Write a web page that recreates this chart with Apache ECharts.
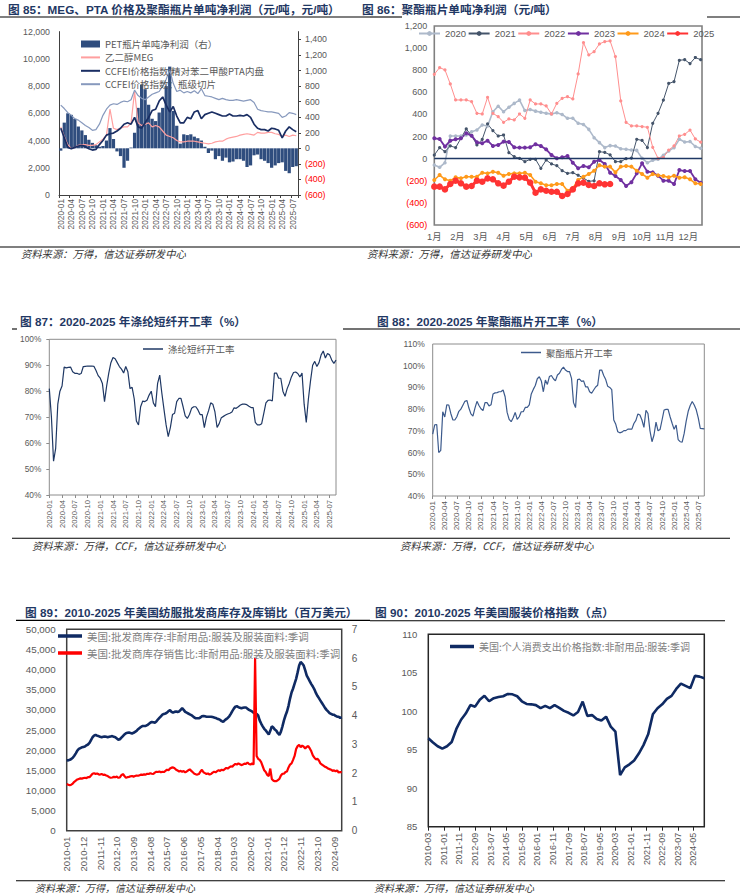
<!DOCTYPE html>
<html><head><meta charset="utf-8">
<script src="https://cdn.jsdelivr.net/npm/echarts@6.0.0/dist/echarts.min.js"></script>
<style>html,body{margin:0;padding:0;background:#fff}#c{width:740px;height:895px}</style>
</head><body><div id="c"></div>
<script>
// ---------- helpers for category labels ----------
function monthRange(y0, m0, n, step) {
  var out = [];
  for (var i = 0; i < n; i++) {
    var t = (m0 - 1) + i * (step || 1);
    var y = y0 + Math.floor(t / 12), m = t % 12 + 1;
    out.push(y + '-' + (m < 10 ? '0' : '') + m);
  }
  return out;
}
function halfMonths(y0, m0, nMonths) {
  var ms = monthRange(y0, m0, nMonths), out = [];
  ms.forEach(function (m) { out.push(m + '-01'); out.push(m + '-16'); });
  return out;
}

// ---------- Fig 85 : monthly 2020-01 .. 2025-08 ----------
var cat85 = monthRange(2020, 1, 68);
var pet85 = [-30,330,450,430,380,280,230,170,110,70,40,20, 30,100,260,120,-40,-100,-250,-160,10,200,520,820, 760,560,380,350,460,520,800,1050,480,290,60,180, 170,180,150,130,100,20,-60,-30,-140,-100,-160,-120, -180,-170,-140,-140,-160,-240,-220,-90,-80,-140,-160,-190, -250,-220,-190,-180,-290,-320,-240,-230];
var meg85 = [5000,4300,3700,3400,3500,3650,3700,3700,3650,3650,3700,3900, 4100,4400,6300,4900,4800,4900,5000,5000,5300,7600,5300,5100, 5200,5300,5000,5100,5000,4700,4400,4300,4200,4000,3900,3900, 3950,3950,3950,3900,3850,3800,3750,3800,3900,3950,3950,4100, 4200,4250,4300,4400,4450,4500,4450,4400,4600,4550,4550,4600, 4600,4500,4450,4300,4400,4300,4400,4350];
var pta85 = [4900,4200,3500,3400,3500,3600,3650,3550,3400,3300,3350,3700, 4000,4400,4500,4550,4700,4900,5200,5300,5200,5700,5000,4900, 5300,5700,6200,6300,6900,7200,6600,6100,6500,5800,5300,5300, 5700,5600,6100,6200,5600,5900,6000,6100,6000,5900,5800,5800, 5950,5800,5800,5850,5800,5900,5700,5200,4900,4800,4800,4700, 4900,4850,4750,4200,4700,5000,4800,4650];
var bottle85 = [6600,6350,6050,5850,5600,5500,5300,5100,4950,4750,4800,5200, 5850,6300,6600,6700,6650,6800,6900,6850,7000,7700,7300,7100, 7000,7200,7400,7500,7600,8000,8500,9200,8200,7600,7700,7500, 7600,7500,7650,7450,7800,7300,7250,7200,7100,7000,7100,7000, 6950,6950,7000,6950,6900,6950,7000,6800,6300,6200,6150,6100, 6100,6050,6000,5700,5800,6050,6000,5900];

// ---------- Fig 86 : weekly profit by year ----------
var monthNames86 = ['1月','2月','3月','4月','5月','6月','7月','8月','9月','10月','11月','12月'];
var y2020 = [-57,-78,-36,205,205,205,214,244,259,305,295,425,475,425,465,500,530,435,445,430,420,410,405,415,400,365,365,320,310,265,190,145,100,118,115,90,85,78,75,3,-36,-15,-5,30,70,100,175,150,155,110,95];
var y2021 = [33,100,63,115,100,184,269,208,124,175,314,253,205,214,54,18,3,-27,-6,-6,-87,-12,-48,-63,-109,-133,-127,-150,-175,-205,-200,63,57,35,-27,-27,0,5,175,165,100,320,410,530,680,697,890,895,860,915,895];
var y2022 = [763,824,803,676,531,531,531,516,410,404,555,410,380,329,359,350,404,365,531,495,495,477,404,501,546,561,540,766,1050,938,968,1038,1059,1065,923,522,329,296,296,290,284,103,3,12,78,115,205,220,259,178,150];
var y2023 = [184,178,109,163,175,184,229,208,148,139,163,115,124,154,151,103,100,100,103,130,115,84,33,3,12,24,-36,-87,-66,-78,-27,-12,-48,-127,-157,-193,-247,-214,-133,-42,-118,-124,-154,-199,-199,-229,-103,-112,-112,-187,-217];
var y2024 = [-193,-148,-187,-199,-169,-178,-163,-163,-163,-127,-133,-118,-127,-154,-139,-133,-133,-127,-148,-208,-223,-241,-241,-229,-229,-290,-268,-193,-163,-139,-109,-60,-72,-72,-124,-72,-66,-72,-109,-139,-172,-139,-151,-157,-169,-154,-172,-169,-187,-223,-229];
var y2025 = [-253,-253,-278,-229,-199,-223,-253,-247,-199,-208,-178,-187,-223,-244,-208,-163,-169,-172,-217,-308,-278,-290,-299,-299,-338,-320,-278,-223,-217,-238,-247,-223,-232,-229];

// ---------- Fig 87 / 88 : semi-monthly 2020-01 .. 2025-08 ----------
var cat87 = halfMonths(2020, 1, 68);
var r87 = [81,70,53,58,75,80,82,89.3,89,89.2, 89.3,87.5,86.9,86.9,86.5,86.8,89.5,89.6,89.7,89.7, 89.7,89.6,88,86,85,83,76,82,87,91, 93,92.5,91,89.5,88.5,87,89.5,87.5,81,81.5, 77,68.5,67,74,76.2,76,76.5,78.5,80,75.5, 74,83,86.2,79.2,73,67,62.5,66,71,71.5, 76,77.2,77.2,74,70.5,69.5,71,73.4,74,74, 72.8,71,71,66,70,72.5,75.5,75,72,66, 67.5,69.8,70.3,70.8,71.2,71.5,72,73.6,73.4,74, 74.7,75,75,74.8,74.2,73.7,73.7,68,67,67, 67.5,71.5,75.5,76.5,76.6,76.2,87,87,85,85, 80,78,81,83,85.5,87.2,87.4,86.8,85.5,87, 75,68,77,84,90,91.5,89.5,91,94,95.5, 92.8,94.5,94,92,90.7,92];
var r88 = [68.5,72.8,72.9,60,61,78.8,76.4,82,81.9,78, 75.1,75,76.5,79,80,81.8,83.6,84,80.5,77.8, 76.8,80.5,83.6,81.7,80.2,79.3,83,83,81.5,82, 87,87.5,87.6,88,88.1,88.8,85.7,78.5,75.3,74.2, 76,78.5,75.3,76.5,78.8,78.8,80.8,80.8,82,87, 89.1,90.9,94,94.9,93,88,93.4,91.4,95,95.5, 94,93,95.7,96.5,98.3,99.4,98,97.3,97.3,94.2, 83,80.7,93.6,93.8,92.8,93,90.3,90.3,88,87.3, 88.8,90.2,91,98,98,95.5,93.6,90.5,90,89, 75,73,69.6,69.1,69.4,70.1,70.1,70.8,70.8,70.8, 73.4,74.8,77.8,77.3,75,71.6,79.5,78,70,65, 68.1,74,70,70.6,75,79.6,79.9,79.9,76.5,73.5, 70.7,72.7,66,65,64.8,68.8,74.5,79,81.7,83.5, 81.9,79.7,76,71.1,71,70.9];

// ---------- Fig 89 : monthly 2010-01 .. 2025-02 ----------
var cat89 = monthRange(2010, 1, 182);
var inv89 = [17500,17450,17600,17800,18100,18600,19200,19900,20300,20500, 20700,20800,20900,21200,21400,21800,22500,23200,23600,23800, 23600,23500,23300,23200,23300,23400,23300,23200,23300,23400, 23500,23300,23200,22900,22600,22700,23100,23500,23900,24200, 24300,24350,24250,24150,24300,24550,24800,25200,25500,25800, 26000,26000,26000,26200,26500,26800,27000,26900,26800,27100, 27600,28000,28400,28800,29000,29100,29300,29700,29900,29500, 29300,29500,29600,29500,29600,30000,30400,30000,29500,29300, 29100,28900,28700,28400,28100,27900,27900,27900,28100,28400, 28500,28400,28300,28300,28300,28300,28200,28100,28000,27800, 27700,27500,27200,27000,27400,27700,28000,28400,29000,29700, 30300,30800,30900,30700,30500,30400,30500,30600,30600,30300, 30000,29800,29600,29300,29100,29000,28600,27400,26600,25900, 25300,24900,24400,23900,24800,25900,25600,25100,24800,24200, 23800,24600,25900,27400,28600,29600,31000,32800,34300,35300, 36500,37700,39300,41000,41900,41500,41000,39800,38500,37800, 37100,36400,35800,35100,34200,33500,32900,32300,31700,31100, 30500,30000,29600,29200,29000,28800,28800,28500,28300,28300, 28000,28200];
var ratio89 = [1.62,1.60,1.58,1.60,1.64,1.70,1.74,1.78,1.80,1.82, 1.81,1.83,1.84,1.83,1.86,1.86,1.92,1.98,2.00,1.97, 1.99,1.96,1.95,1.97,1.94,1.95,1.92,1.90,1.86,1.84, 1.85,1.87,1.86,1.88,1.84,1.85,1.93,1.97,1.90,1.84, 1.86,1.87,1.89,1.90,1.88,1.90,1.92,1.91,1.93,1.95, 1.94,1.96,1.95,1.98,1.97,2.00,1.98,1.97,2.02,2.05, 2.04,2.06,2.03,2.05,2.04,2.08,2.12,2.10,2.16,2.19, 2.20,2.17,2.12,2.09,2.06,2.08,2.05,2.07,2.03,2.06, 2.10,2.13,2.08,2.03,1.98,1.96,1.95,1.97,2.05,2.12, 2.03,2.00,1.97,1.99,1.95,1.97,2.02,2.05,2.03,2.07, 2.10,2.08,2.12,2.10,2.14,2.18,2.16,2.20,2.24,2.22, 2.28,2.32,2.30,2.34,2.31,2.28,2.30,2.33,2.32,2.37, 2.32,2.30,2.34,2.30,6.00,2.60,2.50,2.46,2.38,2.24, 2.10,2.04,1.94,1.90,2.16,1.80,1.74,1.72,1.72,1.76, 1.80,1.92,1.98,1.98,2.04,2.06,2.20,2.30,2.34,2.46, 2.60,2.84,2.94,2.98,2.90,2.96,2.92,2.86,2.92,2.94, 2.86,2.76,2.62,2.54,2.48,2.50,2.44,2.34,2.30,2.26, 2.22,2.20,2.16,2.14,2.12,2.08,2.10,2.06,2.10,2.02, 2.04,2.02];

// ---------- Fig 90 : quarterly values on a monthly axis 2010-03 .. 2024-12 ----------
var cat90 = monthRange(2010, 3, 178);
var q90 = monthRange(2010, 3, 60, 3);
var pce90 = [96.5,95.95,95.45,95.15,95.45,96.0,97.7,98.9,99.7,100.8, 100.6,101.5,102.0,101.3,101.7,101.85,101.95,102.25,102.2,101.95, 101.3,100.95,100.9,100.8,100.4,100.7,100.4,100.8,100.45,100.05, 99.8,99.45,99.9,101.25,99.4,99.5,99.0,98.8,99.3,98.0, 97.35,91.7,92.7,93.1,93.6,94.5,95.6,97.0,99.6,100.4, 100.9,101.6,102.0,102.9,103.6,103.3,103.0,104.6,104.5,104.3];

// ---------- styling ----------
var SANS = "'Liberation Sans', Arial, 'Noto Sans CJK SC', sans-serif";
var CJK = "'Noto Sans CJK SC', 'Liberation Sans', sans-serif";
var GRAY = '#595959';
function thou(v) { return Number(v).toLocaleString('en-US'); }
function negFmt(v) { return v < 0 ? '{n|(' + thou(Math.abs(v)) + ')}' : '{p|' + thou(v) + '}'; }
function negRich(fs) { return { n: { color: '#ff0000', fontSize: fs, fontFamily: SANS }, p: { color: GRAY, fontSize: fs, fontFamily: SANS } }; }
function lbl(fs, extra) { var o = { color: GRAY, fontSize: fs, fontFamily: SANS }; for (var k in extra) o[k] = extra[k]; return o; }

var pce90Map = {};
q90.forEach(function (d, i) { pce90Map[d] = pce90[i]; });
var pce90Series = cat90.map(function (d) { return pce90Map.hasOwnProperty(d) ? pce90Map[d] : null; });
function weekPairs(arr) { return arr.map(function (v, i) { return [i, v]; }); }

var WEEKS_PER_MONTH = 52 / 12;

var titleStyle = { fontSize: 11.7, fontWeight: 'bold', color: '#1f3864', fontFamily: SANS, lineHeight: 13 };
var srcStyle = { fontSize: 10.3, fontStyle: 'italic', fontWeight: 'normal', color: '#333333', fontFamily: CJK, lineHeight: 10.5 };
var srcStyleLow = { fontSize: 10, fontStyle: 'italic', fontWeight: 'normal', color: '#333333', fontFamily: CJK, lineHeight: 10 };
function T(text, left, top, style) { return { text: text, left: left, top: top, padding: 0, textStyle: style }; }

var rules = [
  [0,17,370,17],[370,17,402,17],[707,17,740,17],
  [0,247,740,247],
  [12,329,17,329],[343,329,370,329],[370,329,740,329],
  [12,538.3,370,538.3],[370,538.3,730,538.3],
  [16,620.4,370,620.4],[370,620.7,725,620.7],
  [16,880.8,370,880.8],[370,880.8,725,880.8]
];

var option = {
  animation: false,
  backgroundColor: '#ffffff',
  title: [
    T('图 85：MEG、PTA 价格及聚酯瓶片单吨净利润（元/吨，元/吨）', 8, 3, titleStyle),
    T('图 86：聚酯瓶片单吨净利润（元/吨）', 362, 3, titleStyle),
    T('图 87：2020-2025 年涤纶短纤开工率（%）', 20, 315, titleStyle),
    T('图 88：2020-2025 年聚酯瓶片开工率（%）', 377, 315, titleStyle),
    T('图 89：2010-2025 年美国纺服批发商库存及库销比（百万美元）', 25, 606, titleStyle),
    T('图 90：2010-2025 年美国服装价格指数（点）', 375, 606, titleStyle),
    T('资料来源：万得，信达证券研发中心', 21, 248.5, srcStyle),
    T('资料来源：万得，信达证券研发中心', 367, 248.5, srcStyle),
    T('资料来源：万得，CCF，信达证券研发中心', 32, 540, srcStyle),
    T('资料来源：万得，CCF，信达证券研发中心', 400, 540, srcStyle),
    T('资料来源：万得，信达证券研发中心', 35, 882, srcStyleLow),
    T('资料来源：万得，信达证券研发中心', 374, 882, srcStyleLow)
  ],
  graphic: rules.map(function (r) {
    return { type: 'line', silent: true, shape: { x1: r[0], y1: r[1], x2: r[2], y2: r[3] }, style: { stroke: '#000', lineWidth: 1.1 } };
  }),
  grid: [
    { left: 59, top: 31.6, width: 239, height: 163.4, outerBoundsMode: 'none', containLabel: false },
    { left: 434.3, top: 26, width: 267.7, height: 199, show: true, borderColor: '#808080', borderWidth: 1.6, outerBoundsMode: 'none', containLabel: false },
    { left: 49.3, top: 339.3, width: 286.7, height: 155.7, show: true, borderColor: '#8c8c8c', borderWidth: 1, outerBoundsMode: 'none', containLabel: false },
    { left: 432.7, top: 344, width: 271.6, height: 152, show: true, borderColor: '#8c8c8c', borderWidth: 1, outerBoundsMode: 'none', containLabel: false },
    { left: 66.7, top: 629.3, width: 275, height: 201.4, show: true, borderColor: '#404040', borderWidth: 1.5, outerBoundsMode: 'none', containLabel: false },
    { left: 428.3, top: 634.3, width: 276, height: 192.4, show: true, borderColor: '#262626', borderWidth: 1.5, outerBoundsMode: 'none', containLabel: false }
  ],
  legend: [
    { selectedMode: false, orient: 'vertical', left: 81, top: 38, padding: 0, itemWidth: 19, itemHeight: 7, icon: 'rect',
      textStyle: { fontSize: 9.5, color: GRAY, fontFamily: CJK, lineHeight: 12 },
      data: ['PET瓶片单吨净利润（右）'] },
    { selectedMode: false, orient: 'vertical', left: 81, top: 51.4, padding: 0, itemWidth: 19, itemHeight: 2, itemGap: 1.4, icon: 'rect',
      textStyle: { fontSize: 9.5, color: GRAY, fontFamily: CJK, lineHeight: 12 },
      data: ['乙二醇MEG', 'CCFEI价格指数:精对苯二甲酸PTA内盘', 'CCFEI价格指数：瓶级切片'] },
    { selectedMode: false, orient: 'horizontal', left: 418, top: 28, padding: 0, itemWidth: 21, itemHeight: 6, itemGap: 1.5,
      textStyle: { fontSize: 9.5, color: GRAY, fontFamily: SANS, lineHeight: 11 },
      data: ['2020', '2021', '2022', '2023', '2024', '2025'] },
    { selectedMode: false, left: 143, top: 343, padding: 0, itemWidth: 20, itemHeight: 1.5, icon: 'rect',
      textStyle: { fontSize: 9.5, color: GRAY, fontFamily: CJK, lineHeight: 12 }, data: ['涤纶短纤开工率'] },
    { selectedMode: false, left: 521, top: 346.5, padding: 0, itemWidth: 20, itemHeight: 1.5, icon: 'rect',
      textStyle: { fontSize: 9.5, color: GRAY, fontFamily: CJK, lineHeight: 12 }, data: ['聚酯瓶片开工率'] },
    { selectedMode: false, orient: 'vertical', left: 58, top: 629, padding: 0, itemWidth: 24, itemHeight: 3.5, itemGap: 3, icon: 'rect',
      textStyle: { fontSize: 10.5, color: '#808080', fontFamily: CJK, lineHeight: 14 },
      data: ['美国:批发商库存:非耐用品:服装及服装面料:季调', '美国:批发商库存销售比:非耐用品:服装及服装面料:季调'] },
    { selectedMode: false, left: 450, top: 640, padding: 0, itemWidth: 24, itemHeight: 3.5, icon: 'rect',
      textStyle: { fontSize: 10, color: '#808080', fontFamily: CJK, lineHeight: 13 },
      data: ['美国:个人消费支出价格指数:非耐用品:服装:季调'] }
  ],
  xAxis: [
    { gridIndex: 0, type: 'category', data: cat85, boundaryGap: true,
      axisLine: { lineStyle: { color: '#404040', width: 1 } },
      axisTick: { show: true, interval: 2, length: 3, lineStyle: { color: '#404040' } },
      axisLabel: lbl(8.3, { interval: 2, rotate: 90, margin: 4 }), splitLine: { show: false } },
    { gridIndex: 1, type: 'value', min: 0, max: 50.25, interval: WEEKS_PER_MONTH,
      axisLine: { show: false }, axisTick: { show: false }, splitLine: { show: false },
      axisLabel: lbl(9.3, { margin: 7, showMaxLabel: false,
        formatter: function (v) { var k = Math.round(v / WEEKS_PER_MONTH); return k < 12 ? monthNames86[k] : ''; } }) },
    { gridIndex: 2, type: 'category', data: cat87, boundaryGap: false,
      axisLine: { show: false }, axisTick: { show: true, interval: 5, length: 3, lineStyle: { color: '#8c8c8c' } },
      axisLabel: lbl(7.6, { interval: 5, rotate: 90, margin: 5, formatter: function (v) { return v.slice(0, 7); } }), splitLine: { show: false } },
    { gridIndex: 3, type: 'category', data: cat87, boundaryGap: false,
      axisLine: { show: false }, axisTick: { show: true, interval: 5, length: 3, lineStyle: { color: '#8c8c8c' } },
      axisLabel: lbl(8, { interval: 5, rotate: 90, margin: 5, formatter: function (v) { return v.slice(0, 7); } }), splitLine: { show: false } },
    { gridIndex: 4, type: 'category', data: cat89, boundaryGap: false,
      axisLine: { show: false }, axisTick: { show: false },
      axisLabel: lbl(9.5, { interval: 10, rotate: 90, margin: 6 }), splitLine: { show: false } },
    { gridIndex: 5, type: 'category', data: cat90, boundaryGap: false,
      axisLine: { show: false }, axisTick: { show: true, interval: 9, length: 4, lineStyle: { color: '#262626' } },
      axisLabel: lbl(9, { interval: 9, rotate: 90, margin: 6 }), splitLine: { show: false } }
  ],
  yAxis: [
    { gridIndex: 0, type: 'value', min: 0, max: 12000, interval: 2000,
      axisLine: { show: true, lineStyle: { color: '#404040' } }, axisTick: { show: false }, splitLine: { show: false },
      axisLabel: lbl(8.8, { margin: 9, formatter: thou }) },
    { gridIndex: 0, type: 'value', position: 'right', min: -600, max: 1500, interval: 200,
      axisLine: { show: true, lineStyle: { color: '#404040' } },
      axisTick: { show: true, length: 3, lineStyle: { color: '#404040' } }, splitLine: { show: false },
      axisLabel: { margin: 7, showMaxLabel: false, formatter: negFmt, rich: negRich(8.8) } },
    { gridIndex: 1, type: 'value', min: -600, max: 1200, interval: 200,
      axisLine: { show: false }, axisTick: { show: false }, splitLine: { show: false },
      axisLabel: { margin: 7, formatter: negFmt, rich: negRich(9) } },
    { gridIndex: 2, type: 'value', min: 40, max: 100, interval: 10,
      axisLine: { show: false }, axisTick: { show: true, length: 3, lineStyle: { color: '#8c8c8c' } }, splitLine: { show: false },
      axisLabel: lbl(8.3, { margin: 8, formatter: function (v) { return v + '%'; } }) },
    { gridIndex: 3, type: 'value', min: 40, max: 110, interval: 10,
      axisLine: { show: false }, axisTick: { show: false }, splitLine: { show: false },
      axisLabel: lbl(8.5, { margin: 8, formatter: function (v) { return v + '%'; } }) },
    { gridIndex: 4, type: 'value', min: 0, max: 50000, interval: 5000,
      axisLine: { show: false }, axisTick: { show: false }, splitLine: { show: false },
      axisLabel: lbl(9.8, { margin: 11, formatter: thou }) },
    { gridIndex: 4, type: 'value', position: 'right', min: 0, max: 7, interval: 1,
      axisLine: { show: false }, axisTick: { show: false }, splitLine: { show: false },
      axisLabel: lbl(10, { margin: 10 }) },
    { gridIndex: 5, type: 'value', min: 85, max: 110, interval: 5,
      axisLine: { show: false }, axisTick: { show: false }, splitLine: { show: false },
      axisLabel: lbl(9.5, { margin: 11 }) }
  ],
  series: [
    { name: 'PET瓶片单吨净利润（右）', type: 'bar', xAxisIndex: 0, yAxisIndex: 1, data: pet85,
      barCategoryGap: '8%', itemStyle: { color: '#2f4d7e' } },
    { name: '乙二醇MEG', type: 'line', xAxisIndex: 0, yAxisIndex: 0, data: meg85, symbol: 'none',
      lineStyle: { color: '#ff9f9f', width: 1.2 }, itemStyle: { color: '#ff9f9f' } },
    { name: 'CCFEI价格指数：瓶级切片', type: 'line', xAxisIndex: 0, yAxisIndex: 0, data: bottle85, symbol: 'none',
      lineStyle: { color: '#8799bd', width: 1.2 }, itemStyle: { color: '#8799bd' } },
    { name: 'CCFEI价格指数:精对苯二甲酸PTA内盘', type: 'line', xAxisIndex: 0, yAxisIndex: 0, data: pta85, symbol: 'none',
      lineStyle: { color: '#1a2e63', width: 1.7 }, itemStyle: { color: '#1a2e63' } },

    { name: '2020', type: 'line', xAxisIndex: 1, yAxisIndex: 2, data: weekPairs(y2020), symbol: 'circle', symbolSize: 3.5,
      lineStyle: { color: '#adb9ca', width: 1.6 }, itemStyle: { color: '#adb9ca' },
      markLine: { silent: true, symbol: 'none', label: { show: false }, data: [{ yAxis: 0 }],
        lineStyle: { color: '#1f3864', width: 1.4, type: 'solid' } } },
    { name: '2021', type: 'line', xAxisIndex: 1, yAxisIndex: 2, data: weekPairs(y2021), symbol: 'circle', symbolSize: 3.2,
      lineStyle: { color: '#44546a', width: 1 }, itemStyle: { color: '#44546a' } },
    { name: '2022', type: 'line', xAxisIndex: 1, yAxisIndex: 2, data: weekPairs(y2022), symbol: 'circle', symbolSize: 3.2,
      lineStyle: { color: '#ff8e8e', width: 1 }, itemStyle: { color: '#ff8e8e' } },
    { name: '2023', type: 'line', xAxisIndex: 1, yAxisIndex: 2, data: weekPairs(y2023), symbol: 'circle', symbolSize: 4,
      lineStyle: { color: '#7030a0', width: 1.8 }, itemStyle: { color: '#7030a0' } },
    { name: '2024', type: 'line', xAxisIndex: 1, yAxisIndex: 2, data: weekPairs(y2024), symbol: 'circle', symbolSize: 4,
      lineStyle: { color: '#ff9a1a', width: 1.6 }, itemStyle: { color: '#ff9a1a' } },
    { name: '2025', type: 'line', xAxisIndex: 1, yAxisIndex: 2, data: weekPairs(y2025), symbol: 'circle', symbolSize: 6.5,
      lineStyle: { color: '#ff3333', width: 3 }, itemStyle: { color: '#ff3333' } },

    { name: '涤纶短纤开工率', type: 'line', xAxisIndex: 2, yAxisIndex: 3, data: r87, symbol: 'none',
      lineStyle: { color: '#1f3864', width: 1.2 }, itemStyle: { color: '#1f3864' } },
    { name: '聚酯瓶片开工率', type: 'line', xAxisIndex: 3, yAxisIndex: 4, data: r88, symbol: 'none',
      lineStyle: { color: '#3c5a8c', width: 1.2 }, itemStyle: { color: '#3c5a8c' } },

    { name: '美国:批发商库存:非耐用品:服装及服装面料:季调', type: 'line', xAxisIndex: 4, yAxisIndex: 5, data: inv89, symbol: 'none',
      lineStyle: { color: '#0f2a63', width: 2.6 }, itemStyle: { color: '#0f2a63' } },
    { name: '美国:批发商库存销售比:非耐用品:服装及服装面料:季调', type: 'line', xAxisIndex: 4, yAxisIndex: 6, data: ratio89, symbol: 'none',
      lineStyle: { color: '#ff0000', width: 2.2 }, itemStyle: { color: '#ff0000' } },

    { name: '美国:个人消费支出价格指数:非耐用品:服装:季调', type: 'line', xAxisIndex: 5, yAxisIndex: 7, data: pce90Series,
      connectNulls: true, symbol: 'none', lineStyle: { color: '#0f2a63', width: 2.6 }, itemStyle: { color: '#0f2a63' } }
  ]
};

var chart = echarts.init(document.getElementById('c'), null, { renderer: 'svg', width: 740, height: 895 });
chart.setOption(option);
</script>
</body></html>
